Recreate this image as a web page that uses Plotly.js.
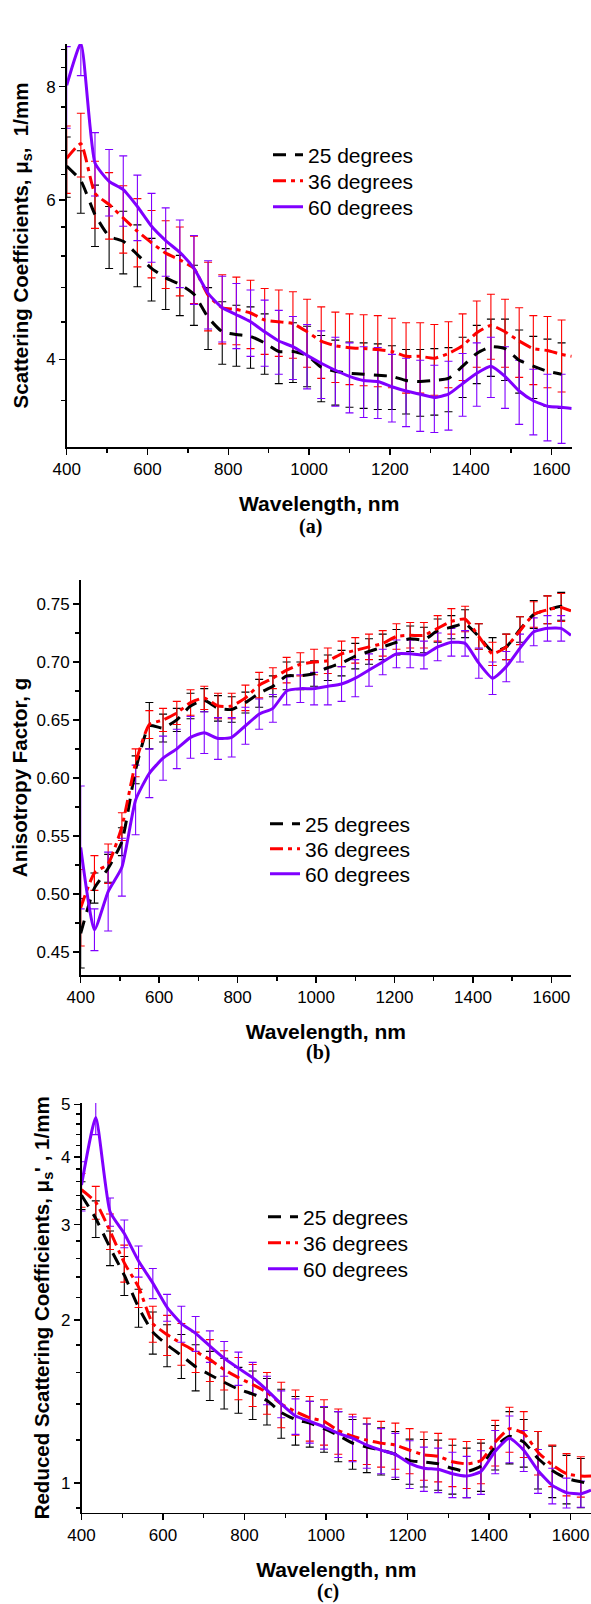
<!DOCTYPE html>
<html><head><meta charset="utf-8">
<script src="https://cdn.plot.ly/plotly-3.0.1.min.js"></script>
<style>html,body{margin:0;padding:0;background:#fff}#chart{width:591px;height:1604px}</style>
</head><body><div id="chart"></div>
<script>
// Wavelengths (nm) at which error bars are drawn; lines continue to 1650 nm
const wl = [400,435,470,505,540,575,610,645,680,715,750,785,820,855,890,925,960,995,1030,1065,1100,1135,1170,1205,1240,1275,1310,1345,1380,1415,1450,1485,1520,1555,1590,1625];
const wlLine = wl.concat([1650]);
const seriesNames = ['25 degrees','36 degrees','60 degrees'];
const xTicks = [400,600,800,1000,1200,1400,1600];

// (a) Scattering coefficients, 1/mm
const a25 = [6.54,6.30,5.78,5.47,5.40,5.22,5.04,4.92,4.84,4.72,4.45,4.29,4.26,4.24,4.17,4.08,4.08,4.04,3.92,3.88,3.86,3.85,3.84,3.83,3.79,3.78,3.79,3.81,3.93,4.06,4.13,4.11,3.99,3.93,3.88,3.85,null];
const a25err = [0.5,0.5,0.45,0.43,0.43,0.41,0.40,0.38,0.37,0.36,0.35,0.34,0.33,0.33,0.32,0.32,0.31,0.31,0.33,0.32,0.32,0.32,0.32,0.31,0.31,0.32,0.32,0.31,0.30,0.30,0.30,0.32,0.32,0.31,0.33,0.32];
const a36 = [6.67,6.92,6.10,5.93,5.73,5.54,5.38,5.24,5.15,5.04,4.71,4.56,4.54,4.50,4.42,4.40,4.38,4.29,4.19,4.14,4.12,4.11,4.10,4.08,4.03,4.03,4.01,4.06,4.14,4.28,4.36,4.29,4.19,4.11,4.09,4.05,4.03];
const a36err = [0.57,0.56,0.52,0.50,0.49,0.48,0.46,0.45,0.45,0.43,0.41,0.40,0.39,0.39,0.37,0.37,0.37,0.37,0.38,0.37,0.37,0.37,0.37,0.36,0.36,0.36,0.36,0.34,0.35,0.36,0.36,0.37,0.37,0.36,0.37,0.37];
const a60 = [8.03,8.93,6.59,6.29,6.16,5.90,5.61,5.41,5.25,5.04,4.73,4.56,4.48,4.40,4.29,4.19,4.13,4.04,3.96,3.89,3.83,3.79,3.78,3.73,3.69,3.66,3.63,3.66,3.76,3.86,3.93,3.83,3.69,3.60,3.55,3.54,3.53];
const a60err = [0.83,0.70,0.53,0.53,0.55,0.49,0.49,0.47,0.45,0.44,0.41,0.38,0.37,0.37,0.36,0.34,0.33,0.33,0.34,0.34,0.34,0.34,0.34,0.32,0.32,0.33,0.31,0.32,0.30,0.31,0.30,0.30,0.30,0.30,0.30,0.31];

// (b) Anisotropy factor g
const b25 = [0.466,0.505,0.522,0.545,0.607,0.645,0.643,0.650,0.662,0.667,0.660,0.659,0.665,0.673,0.679,0.688,0.688,0.690,0.695,0.699,0.705,0.709,0.713,0.717,0.720,0.719,0.727,0.730,0.733,0.722,0.709,0.713,0.728,0.741,0.745,0.748,0.745];
const b25err = [0.03,0.013,0.012,0.012,0.012,0.02,0.012,0.01,0.011,0.01,0.011,0.011,0.009,0.012,0.009,0.012,0.012,0.011,0.011,0.011,0.011,0.011,0.011,0.011,0.011,0.011,0.01,0.01,0.012,0.011,0.012,0.011,0.011,0.012,0.012,0.012];
const b36 = [0.488,0.518,0.526,0.558,0.613,0.646,0.650,0.656,0.665,0.669,0.662,0.662,0.669,0.680,0.686,0.693,0.698,0.700,0.701,0.707,0.710,0.713,0.716,0.722,0.723,0.723,0.729,0.735,0.737,0.722,0.707,0.713,0.727,0.741,0.745,0.747,0.744];
const b36err = [0.033,0.015,0.017,0.012,0.012,0.012,0.01,0.01,0.011,0.01,0.011,0.011,0.011,0.011,0.009,0.011,0.01,0.011,0.011,0.011,0.011,0.011,0.011,0.011,0.011,0.011,0.011,0.011,0.011,0.011,0.01,0.011,0.012,0.011,0.012,0.012];
const b60 = [0.54,0.469,0.502,0.523,0.581,0.604,0.617,0.625,0.635,0.639,0.634,0.635,0.645,0.655,0.660,0.675,0.677,0.677,0.679,0.681,0.686,0.693,0.700,0.707,0.707,0.706,0.713,0.717,0.716,0.699,0.686,0.696,0.712,0.726,0.729,0.729,0.723];
const b60err = [0.053,0.018,0.034,0.025,0.03,0.021,0.019,0.017,0.018,0.018,0.018,0.017,0.016,0.013,0.012,0.012,0.012,0.014,0.016,0.015,0.016,0.014,0.011,0.012,0.012,0.012,0.012,0.012,0.011,0.013,0.014,0.013,0.012,0.012,0.011,0.011];

// (c) Reduced scattering coefficients, 1/mm
const c25 = [3.40,3.08,2.72,2.42,2.11,1.90,1.80,1.72,1.64,1.585,1.535,1.49,1.46,1.42,1.35,1.31,1.29,1.26,1.225,1.185,1.165,1.15,1.13,1.10,1.093,1.085,1.064,1.05,1.075,1.167,1.22,1.19,1.11,1.055,1.02,1.005,0.995];
const c25err = [0.2,0.24,0.2,0.2,0.17,0.17,0.16,0.16,0.16,0.165,0.165,0.145,0.15,0.14,0.14,0.135,0.125,0.12,0.13,0.125,0.12,0.115,0.115,0.105,0.11,0.115,0.11,0.11,0.11,0.11,0.135,0.12,0.135,0.115,0.105,0.105];
const c36 = [3.48,3.30,2.92,2.55,2.30,1.97,1.88,1.81,1.75,1.69,1.62,1.565,1.52,1.47,1.40,1.355,1.32,1.30,1.25,1.22,1.20,1.185,1.175,1.15,1.127,1.12,1.095,1.085,1.10,1.19,1.26,1.235,1.14,1.08,1.04,1.03,1.03];
const c36err = [0.25,0.23,0.22,0.2,0.19,0.15,0.16,0.16,0.15,0.15,0.135,0.14,0.135,0.13,0.135,0.13,0.125,0.125,0.12,0.12,0.118,0.115,0.115,0.11,0.115,0.115,0.11,0.108,0.103,0.115,0.12,0.12,0.105,0.095,0.093,0.088];
const c60 = [3.55,4.73,3.17,2.89,2.57,2.34,2.11,1.97,1.89,1.79,1.70,1.63,1.565,1.485,1.40,1.33,1.30,1.27,1.235,1.21,1.175,1.15,1.13,1.087,1.065,1.06,1.04,1.03,1.05,1.145,1.21,1.15,1.055,0.99,0.96,0.955,0.97];
const c60err = [0.37,0.33,0.19,0.17,0.17,0.15,0.12,0.15,0.14,0.12,0.125,0.115,0.105,0.09,0.08,0.1,0.115,0.115,0.12,0.115,0.11,0.11,0.105,0.11,0.10,0.10,0.10,0.09,0.097,0.105,0.12,0.10,0.098,0.075,0.061,0.053];

const colors = ['#000000','#ff0000','#8000ff'];
const dashes = ['13px,9px','13px,5px,4px,5px','solid'];
const FONT = 'Liberation Sans, Arial, sans-serif';

const panels = [
  {vals:[a25,a36,a60], errs:[a25err,a36err,a60err], xa:'x', ya:'y', legX:268, legRows:[155,181,207]},
  {vals:[b25,b36,b60], errs:[b25err,b36err,b60err], xa:'x2', ya:'y2', legX:265, legRows:[824,849,874]},
  {vals:[c25,c36,c60], errs:[c25err,c36err,c60err], xa:'x3', ya:'y3', legX:263, legRows:[1217,1243,1269]}
];

function px(v){return v/591;}
function py(v){return 1 - v/1604;}

const traces = [];
const legends = {};
panels.forEach((p, pi) => {
  p.vals.forEach((v, i) => {
    traces.push({
      type:'scatter', mode:'markers', x: wl, y: v.slice(0, wl.length),
      xaxis:p.xa, yaxis:p.ya, showlegend:false, hoverinfo:'skip',
      marker:{size:1, opacity:0, color:colors[i]},
      error_y:{type:'data', array:p.errs[i], symmetric:true, color:colors[i], thickness:1.1, width:4}
    });
  });
  p.vals.forEach((v, i) => {
    const n = pi*3 + i + 1;
    const key = n === 1 ? 'legend' : 'legend' + n;
    legends[key] = {x:px(p.legX), y:py(p.legRows[i] - 20.5), xanchor:'left', yanchor:'top',
      bgcolor:'rgba(0,0,0,0)', font:{family:FONT, size:21, color:'#000'}};
    traces.push({
      type:'scatter', mode:'lines', x: wlLine, y: v, name: seriesNames[i],
      xaxis:p.xa, yaxis:p.ya, legend:key,
      line:{color:colors[i], width:3, dash:dashes[i], shape:'spline', smoothing:0.5}
    });
  });
});

const axisCommon = {
  showline:true, linecolor:'#000', linewidth:1.6, ticks:'outside', ticklen:6, tickwidth:1.4, tickcolor:'#000',
  showgrid:false, zeroline:false, automargin:false, tickfont:{family:FONT, size:17, color:'#000'}
};
function xAxis(d0, d1, anchor){
  return Object.assign({}, axisCommon, {
    domain:[px(d0), d1], anchor: anchor, range:[400,1650], tickmode:'array', tickvals: xTicks,
    minor:{tickvals:[500,700,900,1100,1300,1500], ticks:'outside', ticklen:4, tickwidth:1.4, tickcolor:'#000'},
    title:{text:'<b>Wavelength, nm</b>', font:{family:FONT, size:21, color:'#000'}, standoff:18}
  });
}
const minorY = {ticks:'outside', ticklen:4, tickwidth:1.4, tickcolor:'#000'};

const layout = Object.assign({
  width:591, height:1604, margin:{l:0, r:0, t:0, b:0}, paper_bgcolor:'#fff', plot_bgcolor:'#fff',
  font:{family:FONT, color:'#000'},
  xaxis: xAxis(66.7, px(571.7), 'y'),
  xaxis2: xAxis(80.7, px(571), 'y2'),
  xaxis3: xAxis(81.5, 1, 'y3'),
  yaxis: Object.assign({}, axisCommon, {
    domain:[py(447), py(44)], anchor:'x', type:'log', range:[Math.log10(3.2), Math.log10(8.92)],
    tickmode:'array', tickvals:[4,6,8], ticktext:['4','6','8'],
    minor:Object.assign({tickvals:[3.6,4.4,4.8,5.2,5.6,6.4,6.8,7.2,7.6,8.4,8.8]}, minorY),
    title:{text:'<b>Scattering Coefficients, μ<sub>s</sub>,  1/mm</b>', font:{family:FONT, size:20.5, color:'#000'}, standoff:12}
  }),
  yaxis2: Object.assign({}, axisCommon, {
    domain:[py(975), py(580)], anchor:'x2', range:[0.43, 0.7707],
    tickmode:'array', tickvals:[0.45,0.5,0.55,0.6,0.65,0.7,0.75], ticktext:['0.45','0.50','0.55','0.60','0.65','0.70','0.75'],
    minor:Object.assign({tickvals:[0.475,0.525,0.575,0.625,0.675,0.725]}, minorY),
    title:{text:'<b>Anisotropy Factor, g</b>', font:{family:FONT, size:20.5, color:'#000'}, standoff:3}
  }),
  yaxis3: Object.assign({}, axisCommon, {
    domain:[py(1512.7), py(1103)], anchor:'x3', type:'log', range:[-0.0548, 0.7018],
    tickmode:'array', tickvals:[1,2,3,4,5], ticktext:['1','2','3','4','5'],
    minor:Object.assign({tickvals:[0.9,1.2,1.4,1.6,1.8,2.2,2.4,2.6,2.8,3.2,3.4,3.6,3.8,4.2,4.4,4.6,4.8]}, minorY),
    title:{text:"<b>Reduced Scattering Coefficients, μ<sub>s</sub>' , 1/mm</b>", font:{family:FONT, size:20.5, color:'#000'}, standoff:6}
  }),
  annotations:[
    {text:'<b>(a)</b>', xref:'paper', yref:'paper', x:px(311), y:py(527), xanchor:'center', yanchor:'middle', showarrow:false, font:{family:'Liberation Serif, Times New Roman, serif', size:20, color:'#000'}},
    {text:'<b>(b)</b>', xref:'paper', yref:'paper', x:px(318), y:py(1052), xanchor:'center', yanchor:'middle', showarrow:false, font:{family:'Liberation Serif, Times New Roman, serif', size:20, color:'#000'}},
    {text:'<b>(c)</b>', xref:'paper', yref:'paper', x:px(328), y:py(1591), xanchor:'center', yanchor:'middle', showarrow:false, font:{family:'Liberation Serif, Times New Roman, serif', size:20, color:'#000'}}
  ]
}, legends);

Plotly.newPlot('chart', traces, layout, {staticPlot:true, displayModeBar:false});
</script></body></html>
